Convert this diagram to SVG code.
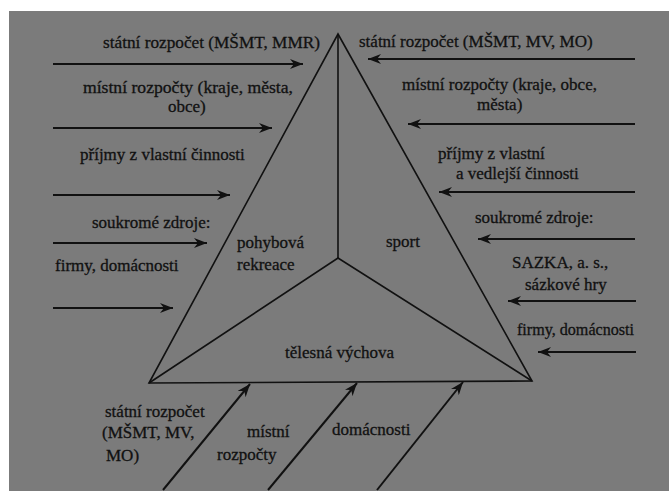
<svg xmlns="http://www.w3.org/2000/svg" width="669" height="491" viewBox="0 0 669 491">
<style>
text{font-family:"Liberation Serif","Times New Roman",serif;font-size:17px;fill:#111;stroke:#111;stroke-width:0.3}
.edge{fill:none;stroke:#111;stroke-width:1.6;stroke-linejoin:miter}
.arr{fill:none;stroke:#111;stroke-width:2;marker-end:url(#ah)}
</style>
<defs>
<marker id="ah" markerUnits="userSpaceOnUse" markerWidth="14" markerHeight="10" refX="13" refY="5" orient="auto">
<path d="M0,0 L13,5 L0,10 L4,5 z" fill="#111"/>
</marker>
</defs>
<rect width="669" height="491" fill="#fff"/>
<rect x="9" y="11" width="660" height="480" fill="#7b7b7b"/>
<g id="triangle">
<polygon class="edge" points="338,34 532,381 149,383"/>
<polyline class="edge" points="338,34 338,258"/>
<polyline class="edge" points="149,383 338,258 532,381"/>
</g>
<g id="node-rekreace"><text x="237" y="248">pohybová</text><text x="237" y="270">rekreace</text></g>
<g id="node-sport"><text x="386" y="247">sport</text></g>
<g id="node-vychova"><text x="285" y="358">tělesná výchova</text></g>
<g id="connectors">
<line class="arr" x1="53" y1="64" x2="303" y2="64"/>
<line class="arr" x1="53" y1="128" x2="272" y2="128"/>
<line class="arr" x1="53" y1="195" x2="230" y2="195"/>
<line class="arr" x1="53" y1="243" x2="207" y2="243"/>
<line class="arr" x1="53" y1="308" x2="173" y2="308"/>
<line class="arr" x1="635" y1="59" x2="368" y2="59"/>
<line class="arr" x1="635" y1="124" x2="408" y2="124"/>
<line class="arr" x1="635" y1="192" x2="439" y2="192"/>
<line class="arr" x1="635" y1="239" x2="478" y2="239"/>
<line class="arr" x1="636" y1="301" x2="508" y2="301"/>
<line class="arr" x1="636" y1="352" x2="538" y2="352"/>
<line class="arr" x1="163" y1="490" x2="250" y2="384"/>
<line class="arr" x1="268" y1="490" x2="357" y2="383"/>
<line class="arr" x1="377" y1="490" x2="463" y2="382"/>
</g>
<g id="labels">
<text x="103" y="48" textLength="217" lengthAdjust="spacingAndGlyphs">státní rozpočet (MŠMT, MMR)</text>
<text x="83" y="93" textLength="210" lengthAdjust="spacingAndGlyphs">místní rozpočty (kraje, města,</text>
<text x="168" y="112">obce)</text>
<text x="80" y="160">příjmy z vlastní činnosti</text>
<text x="92" y="228">soukromé zdroje:</text>
<text x="55" y="271">firmy, domácnosti</text>
<text x="359" y="47">státní rozpočet (MŠMT, MV, MO)</text>
<text x="402" y="90">místní rozpočty (kraje, obce,</text>
<text x="477" y="110">města)</text>
<text x="438" y="159">příjmy z vlastní</text>
<text x="456" y="179">a vedlejší činnosti</text>
<text x="475" y="223">soukromé zdroje:</text>
<text x="512" y="268">SAZKA, a. s.,</text>
<text x="525" y="290">sázkové hry</text>
<text x="517" y="335" textLength="117" lengthAdjust="spacingAndGlyphs">firmy, domácnosti</text>
<text x="105" y="417">státní rozpočet</text>
<text x="102" y="438">(MŠMT, MV,</text>
<text x="106" y="461">MO)</text>
<text x="247" y="437">místní</text>
<text x="217" y="460">rozpočty</text>
<text x="332" y="435">domácnosti</text>
</g>
</svg>
